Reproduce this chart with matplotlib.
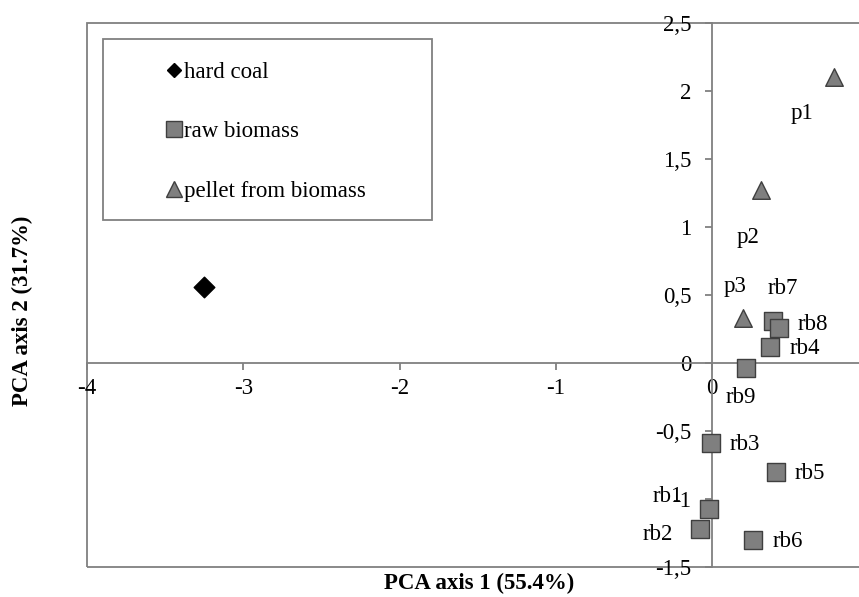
import matplotlib
matplotlib.use("Agg")
import matplotlib.pyplot as plt
from matplotlib.patches import Rectangle
from matplotlib.ticker import FuncFormatter
from matplotlib.lines import Line2D

plt.rcParams['font.family'] = ['Liberation Serif', 'DejaVu Serif']

# PCA scores
coal_x = [-3.25]
coal_y = [0.56]

pellet_names = ["p1", "p2", "p3"]
pellet_x = [0.78, 0.31, 0.20]
pellet_y = [2.10, 1.27, 0.33]

raw_names = ["rb1", "rb2", "rb3", "rb4", "rb5", "rb6", "rb7", "rb8", "rb9"]
raw_x = [-0.02, -0.08, -0.01, 0.37, 0.41, 0.26, 0.39, 0.43, 0.22]
raw_y = [-1.07, -1.22, -0.59, 0.12, -0.80, -1.30, 0.31, 0.26, -0.04]

x_ticks = [-4, -3, -2, -1, 0]
y_ticks = [-1.5, -1, -0.5, 0, 0.5, 1, 1.5, 2, 2.5]

# label offsets in points (layout only)
pellet_offsets = [(-23, -26), (-9, -34), (-6, 23)]
raw_offsets = [(-30, 9), (-30, -4), (25, -1), (25, -1), (24, -1),
               (25, -1), (7, 23), (24, 2), (-4, -21)]

FS = 16.5
grey = "#808080"
fill = "#7f7f7f"
edge = "#3f3f3f"

fig = plt.figure(figsize=(8.59, 5.97), dpi=100)
ax = fig.add_axes([87 / 859, 30 / 597, 772 / 859, 544 / 597])

ax.scatter(coal_x, coal_y, marker="D", s=110, color="black", zorder=3)
ax.scatter(raw_x, raw_y, marker="s", s=150, color=fill, edgecolor=edge,
           linewidth=1, zorder=3)
ax.scatter(pellet_x, pellet_y, marker="^", s=160, color=fill, edgecolor=edge,
           linewidth=1, zorder=3)

for name, x, y, off in zip(pellet_names, pellet_x, pellet_y, pellet_offsets):
    ax.annotate(name, (x, y), xytext=off, textcoords="offset points",
                ha="center", va="center", fontsize=FS)
for name, x, y, off in zip(raw_names, raw_x, raw_y, raw_offsets):
    ax.annotate(name, (x, y), xytext=off, textcoords="offset points",
                ha="center", va="center", fontsize=FS)

ax.set_xlim(-4, 0.94)
ax.set_ylim(-1.5, 2.5)

ax.spines["left"].set_position(("data", 0))
ax.spines["bottom"].set_position(("data", 0))
ax.spines["right"].set_visible(False)
ax.spines["top"].set_visible(False)
for s in ("left", "bottom"):
    ax.spines[s].set_color(grey)
    ax.spines[s].set_linewidth(1.3)

# outer frame of the plot area
ax.add_patch(Rectangle((0, 0), 1.2, 1, transform=ax.transAxes, fill=False,
                       edgecolor=grey, linewidth=1.3, clip_on=False, zorder=1))

fmt = FuncFormatter(lambda v, p: f"{v:g}".replace(".", ","))
ax.set_xticks(x_ticks)
ax.set_yticks(y_ticks)
ax.xaxis.set_major_formatter(fmt)
ax.yaxis.set_major_formatter(fmt)
ax.tick_params(axis="both", direction="out", length=5, width=1.3,
               color=grey, labelsize=FS)
ax.tick_params(axis="x", pad=6)
ax.tick_params(axis="y", pad=10)

fig.text(479 / 859, 1 - 583 / 597, "PCA axis 1 (55.4%)", ha="center",
         va="center", fontsize=FS, fontweight="bold")
fig.text(22 / 859, 1 - 311 / 597, "PCA axis 2 (31.7%)", ha="center",
         va="center", rotation=90, fontsize=FS, fontweight="bold")

# legend box
ax.add_patch(Rectangle((16 / 772, 347 / 544), 329 / 772, 181 / 544,
                       transform=ax.transAxes, fill=False, edgecolor=grey,
                       linewidth=1.3, zorder=4))
handles = [
    Line2D([], [], marker="D", ls="", color="black", ms=7),
    Line2D([], [], marker="s", ls="", color=fill, mec=edge, mew=1, ms=11),
    Line2D([], [], marker="^", ls="", color=fill, mec=edge, mew=1, ms=11),
]
ax.legend(handles, ["hard coal", "raw biomass", "pellet from biomass"],
          loc="upper left", bbox_to_anchor=(80 / 772, 505 / 544),
          frameon=False, fontsize=FS, handlelength=0.6, handletextpad=0.15,
          labelspacing=1.67, borderpad=0, borderaxespad=0)

fig.savefig("out.png", dpi=100)
